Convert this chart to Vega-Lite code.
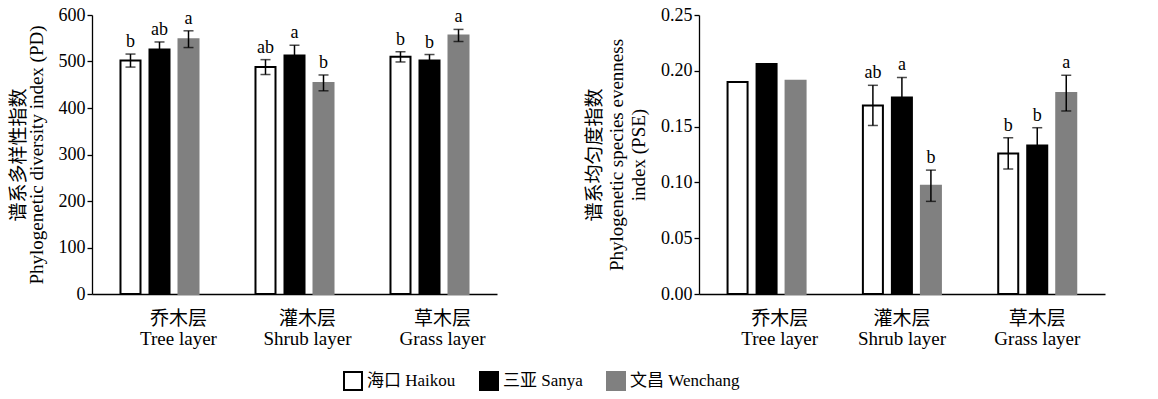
{
  "$schema": "https://vega.github.io/schema/vega-lite/v6.json",
  "padding": {"left": 8, "top": 6, "right": 5, "bottom": 5},
  "background": "white",
  "datasets": {
    "pd": [
      {"layer": "Tree layer", "site": "海口 Haikou", "value": 502, "err": 14, "letter": "b"},
      {"layer": "Tree layer", "site": "三亚 Sanya", "value": 526, "err": 16, "letter": "ab"},
      {"layer": "Tree layer", "site": "文昌 Wenchang", "value": 548, "err": 18, "letter": "a"},
      {"layer": "Shrub layer", "site": "海口 Haikou", "value": 488, "err": 16, "letter": "ab"},
      {"layer": "Shrub layer", "site": "三亚 Sanya", "value": 513, "err": 22, "letter": "a"},
      {"layer": "Shrub layer", "site": "文昌 Wenchang", "value": 454, "err": 17, "letter": "b"},
      {"layer": "Grass layer", "site": "海口 Haikou", "value": 510, "err": 11, "letter": "b"},
      {"layer": "Grass layer", "site": "三亚 Sanya", "value": 502, "err": 13, "letter": "b"},
      {"layer": "Grass layer", "site": "文昌 Wenchang", "value": 556, "err": 13, "letter": "a"}
    ],
    "pse": [
      {"layer": "Tree layer", "site": "海口 Haikou", "value": 0.190, "err": null, "letter": null},
      {"layer": "Tree layer", "site": "三亚 Sanya", "value": 0.206, "err": null, "letter": null},
      {"layer": "Tree layer", "site": "文昌 Wenchang", "value": 0.191, "err": null, "letter": null},
      {"layer": "Shrub layer", "site": "海口 Haikou", "value": 0.169, "err": 0.018, "letter": "ab"},
      {"layer": "Shrub layer", "site": "三亚 Sanya", "value": 0.176, "err": 0.018, "letter": "a"},
      {"layer": "Shrub layer", "site": "文昌 Wenchang", "value": 0.097, "err": 0.014, "letter": "b"},
      {"layer": "Grass layer", "site": "海口 Haikou", "value": 0.126, "err": 0.014, "letter": "b"},
      {"layer": "Grass layer", "site": "三亚 Sanya", "value": 0.133, "err": 0.016, "letter": "b"},
      {"layer": "Grass layer", "site": "文昌 Wenchang", "value": 0.180, "err": 0.016, "letter": "a"}
    ]
  },
  "config": {
    "font": "Liberation Serif, Noto Sans CJK SC",
    "view": {"stroke": null},
    "axis": {
      "labelFont": "Liberation Serif, Noto Sans CJK SC",
      "titleFont": "Liberation Serif, Noto Sans CJK SC",
      "labelFontSize": 18,
      "titleFontSize": 19,
      "titleFontWeight": "normal",
      "labelColor": "black",
      "titleColor": "black",
      "domainColor": "black",
      "tickColor": "black",
      "domainWidth": 1.3,
      "tickWidth": 1.3,
      "grid": false
    },
    "legend": {
      "labelFont": "Liberation Serif, Noto Sans CJK SC",
      "labelFontSize": 17,
      "labelColor": "black"
    }
  },
  "spacing": 88,
  "hconcat": [
    {
      "width": 405,
      "height": 279,
      "data": {"name": "pd"},
      "encoding": {
        "x": {
          "field": "layer", "type": "nominal",
          "sort": ["Tree layer", "Shrub layer", "Grass layer"],
          "scale": {"paddingInner": 0.422, "paddingOuter": 0.211},
          "axis": {
            "title": null, "labelAngle": 0, "ticks": false, "labelPadding": 15, "labelLineHeight": 20, "labelFontSize": 19,
            "labelOffset": {"condition": {"test": "datum.value == 'Tree layer'", "value": 19}, "value": 13},
            "labelExpr": "datum.label == 'Tree layer' ? ['乔木层', 'Tree layer'] : datum.label == 'Shrub layer' ? ['灌木层', 'Shrub layer'] : ['草木层', 'Grass layer']"
          }
        },
        "xOffset": {
          "field": "site", "type": "nominal",
          "scale": {"domain": ["海口 Haikou", "三亚 Sanya", "文昌 Wenchang"], "paddingInner": 0.31, "paddingOuter": 0}
        }
      },
      "layer": [
        {
          "mark": {"type": "bar", "strokeWidth": 2},
          "encoding": {
            "y": {
              "field": "value", "type": "quantitative",
              "scale": {"domain": [0, 600], "nice": false},
              "axis": {"values": [0, 100, 200, 300, 400, 500, 600], "tickSize": 5, "titlePadding": 12, "titleLineHeight": 18,
                "title": ["谱系多样性指数", "Phylogenetic diversity index (PD)"]}
            },
            "fill": {
              "field": "site", "type": "nominal",
              "scale": {"domain": ["海口 Haikou", "三亚 Sanya", "文昌 Wenchang"], "range": ["white", "black", "#808080"]},
              "legend": {"title": null, "orient": "none", "direction": "horizontal", "legendX": 251, "legendY": 356,
                "symbolType": "square", "symbolSize": 324, "symbolStrokeWidth": 2, "columnPadding": 20, "labelOffset": 4}
            },
            "stroke": {
              "field": "site", "type": "nominal",
              "scale": {"domain": ["海口 Haikou", "三亚 Sanya", "文昌 Wenchang"], "range": ["black", "black", "#808080"]},
              "legend": {"title": null, "orient": "none", "direction": "horizontal", "legendX": 251, "legendY": 356,
                "symbolType": "square", "symbolSize": 324, "symbolStrokeWidth": 2, "columnPadding": 20, "labelOffset": 4}
            }
          }
        },
        {
          "transform": [{"calculate": "datum.value - datum.err", "as": "lo"}, {"calculate": "datum.value + datum.err", "as": "hi"}],
          "mark": {"type": "rule", "color": "black", "strokeWidth": 1.5},
          "encoding": {"y": {"field": "lo", "type": "quantitative"}, "y2": {"field": "hi"}}
        },
        {
          "transform": [{"calculate": "datum.value + datum.err", "as": "hi"}],
          "mark": {"type": "tick", "color": "black", "size": 10, "thickness": 1.5},
          "encoding": {"y": {"field": "hi", "type": "quantitative"}}
        },
        {
          "transform": [{"calculate": "datum.value - datum.err", "as": "lo"}],
          "mark": {"type": "tick", "color": "black", "size": 10, "thickness": 1.5},
          "encoding": {"y": {"field": "lo", "type": "quantitative"}}
        },
        {
          "transform": [{"calculate": "datum.value + datum.err", "as": "hi"}],
          "mark": {"type": "text", "fontSize": 18, "dy": -7, "baseline": "alphabetic", "color": "black"},
          "encoding": {"y": {"field": "hi", "type": "quantitative"}, "text": {"field": "letter"}}
        }
      ]
    },
    {
      "width": 406,
      "height": 279,
      "data": {"name": "pse"},
      "encoding": {
        "x": {
          "field": "layer", "type": "nominal",
          "sort": ["Tree layer", "Shrub layer", "Grass layer"],
          "scale": {"paddingInner": 0.422, "paddingOuter": 0.211},
          "axis": {
            "title": null, "labelAngle": 0, "ticks": false, "labelPadding": 15, "labelLineHeight": 20, "labelFontSize": 19,
            "labelOffset": {"condition": {"test": "datum.value == 'Tree layer'", "value": 13}, "value": 0},
            "labelExpr": "datum.label == 'Tree layer' ? ['乔木层', 'Tree layer'] : datum.label == 'Shrub layer' ? ['灌木层', 'Shrub layer'] : ['草木层', 'Grass layer']"
          }
        },
        "xOffset": {
          "field": "site", "type": "nominal",
          "scale": {"domain": ["海口 Haikou", "三亚 Sanya", "文昌 Wenchang"], "paddingInner": 0.31, "paddingOuter": 0}
        }
      },
      "layer": [
        {
          "mark": {"type": "bar", "strokeWidth": 2},
          "encoding": {
            "y": {
              "field": "value", "type": "quantitative",
              "scale": {"domain": [0, 0.25], "nice": false},
              "axis": {"values": [0, 0.05, 0.1, 0.15, 0.2, 0.25], "format": ".2f", "tickSize": 5, "titlePadding": 12, "titleLineHeight": 22,
                "title": ["谱系均匀度指数", "Phylogenetic species evenness", "index (PSE)"]}
            },
            "fill": {"field": "site", "type": "nominal"},
            "stroke": {"field": "site", "type": "nominal"}
          }
        },
        {
          "transform": [{"filter": "datum.err != null"}, {"calculate": "datum.value - datum.err", "as": "lo"}, {"calculate": "datum.value + datum.err", "as": "hi"}],
          "mark": {"type": "rule", "color": "black", "strokeWidth": 1.5},
          "encoding": {"y": {"field": "lo", "type": "quantitative"}, "y2": {"field": "hi"}}
        },
        {
          "transform": [{"filter": "datum.err != null"}, {"calculate": "datum.value + datum.err", "as": "hi"}],
          "mark": {"type": "tick", "color": "black", "size": 10, "thickness": 1.5},
          "encoding": {"y": {"field": "hi", "type": "quantitative"}}
        },
        {
          "transform": [{"filter": "datum.err != null"}, {"calculate": "datum.value - datum.err", "as": "lo"}],
          "mark": {"type": "tick", "color": "black", "size": 10, "thickness": 1.5},
          "encoding": {"y": {"field": "lo", "type": "quantitative"}}
        },
        {
          "transform": [{"filter": "datum.err != null"}, {"calculate": "datum.value + datum.err", "as": "hi"}],
          "mark": {"type": "text", "fontSize": 18, "dy": -7, "baseline": "alphabetic", "color": "black"},
          "encoding": {"y": {"field": "hi", "type": "quantitative"}, "text": {"field": "letter"}}
        }
      ]
    }
  ]
}
